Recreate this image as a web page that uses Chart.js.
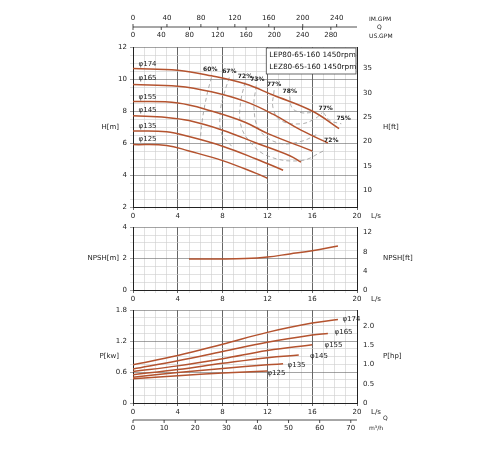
<!DOCTYPE html>
<html><head><meta charset="utf-8">
<script src="https://cdn.jsdelivr.net/npm/chart.js@4.4.0/dist/chart.umd.min.js"></script>
<style>
body{margin:0;background:#fff;}
#wrap{position:relative;width:500px;height:450px;}
.c{position:absolute;}
</style></head><body>
<div id="wrap">
<div class="c" style="left:75px;top:5px;width:347px;height:216px"><canvas id="c1"></canvas></div>
<div class="c" style="left:75px;top:220px;width:347px;height:84px"><canvas id="c2"></canvas></div>
<div class="c" style="left:75px;top:303px;width:347px;height:145px"><canvas id="c3"></canvas></div>
</div>
<script>
// ---- data ----
const diameters = ['φ174','φ165','φ155','φ145','φ135','φ125'];
const headCurves = [
 [[0,10.65],[4,10.55],[7,10.2],[10,9.7],[12.5,9.0],[16,8.0],[18.4,6.9]],
 [[0,9.65],[4,9.55],[7,9.2],[10,8.6],[12.5,7.8],[15,6.8],[17.4,6.0]],
 [[0,8.6],[4,8.5],[7,8.0],[10,7.3],[12,6.6],[16,5.5]],
 [[0,7.7],[3,7.6],[5,7.4],[8,6.8],[11,6.0],[14,5.2],[15,4.8]],
 [[0,6.75],[3,6.7],[5,6.4],[8,5.8],[11,5.0],[13.4,4.3]],
 [[0,5.9],[3,5.85],[5,5.5],[8,4.9],[11,4.1],[12,3.8]]
];
const headLabelPos = [[0.5,10.9],[0.5,10.0],[0.5,8.85],[0.5,8.0],[0.5,7.0],[0.5,6.2]];
const effLines = [
 [[7,10.1],[6.6,9],[6.2,7.5],[6,6.2]],
 [[8.6,10.1],[8.1,9],[7.8,8],[7.9,6.6],[8.8,5.8]],
 [[10,9.8],[9.6,8.5],[9.6,7.2],[10.3,6.2],[12,5.2],[15,4.9],[17,5.5]],
 [[11,9.6],[10.8,8.2],[11.3,6.8],[13,6.0],[15,6.1],[16.6,6.6]],
 [[12.6,9.3],[12.5,8.2],[13.2,7.4],[15,7.2],[16.2,7.5],[16.9,7.9]],
 [[14,8.9],[14.2,8.2],[15,7.9],[16,7.9]],
 [[17,7.9],[17.6,7.4],[18.6,7.2]]
];
const effLabels = [['60%',6.9,10.4],['67%',8.6,10.3],['72%',10,10.0],['73%',11.1,9.8],['77%',12.6,9.45],['78%',14,9.05],['77%',17.2,7.95],['75%',18.8,7.35],['72%',17.7,5.95]];
const npsh = [[5,1.97],[8,1.97],[10,2.0],[12,2.1],[14,2.3],[16,2.5],[18.3,2.8]];
const powerCurves = [
 [[0,0.74],[4,0.92],[8,1.14],[12,1.37],[16,1.55],[18.3,1.62]],
 [[0,0.66],[4,0.82],[8,1.0],[12,1.18],[16,1.32],[17.4,1.35]],
 [[0,0.61],[4,0.72],[8,0.86],[12,1.02],[16,1.13]],
 [[0,0.55],[4,0.65],[8,0.77],[12,0.88],[14.8,0.93]],
 [[0,0.5],[4,0.59],[8,0.67],[12,0.74],[13.4,0.76]],
 [[0,0.47],[4,0.53],[8,0.58],[12,0.62]]
];
const powerLabelPos = [[18.7,1.63],[18,1.375],[17.1,1.125],[15.8,0.9],[13.8,0.73],[12,0.58]];
const imGpmTicks = [0,40,80,120,160,200,240];
const usGpmTicks = [0,40,80,120,160,200,240,280];
const m3hTicks = [0,10,20,30,40,50,60,70];
const IMGPM_PER_LS = 13.198, USGPM_PER_LS = 15.850, M3H_PER_LS = 3.6;

const FONT = '"DejaVu Sans", sans-serif';
const CURVE = '#b4532f';
Chart.defaults.font.family = FONT;
Chart.defaults.font.size = 7;
Chart.defaults.color = '#222';
Chart.defaults.animation = false;

const pts = a => a.map(p => ({x:p[0], y:p[1]}));
function curveDS(a){return {data:pts(a),borderColor:CURVE,borderWidth:1.5,pointRadius:0,tension:0.4,yAxisID:'y'};}

function xScale(){
  return {type:'linear',min:0,max:20,
    ticks:{stepSize:1,padding:2,maxRotation:0,autoSkip:false,callback:v=>v%4===0?v:''},
    grid:{color:c=>c.tick.value%4===0?'#666':'#ccc',lineWidth:c=>c.tick.value%4===0?1:0.6,tickLength:3},
    border:{color:'#222'},
    afterFit:s=>{s.height=14;}};
}
function yScale(min,max,step,lab,major){
  return {type:'linear',position:'left',min,max,
    ticks:{stepSize:step,padding:3,autoSkip:false,callback:v=>Math.abs(v/lab-Math.round(v/lab))<1e-6?(+v.toFixed(2)):''},
    grid:{color:c=>Math.abs(c.tick.value/major-Math.round(c.tick.value/major))<1e-6?'#666':'#ccc',lineWidth:0.6,tickLength:3},
    border:{color:'#222'},
    afterFit:s=>{s.width=58;}};
}
function y2Scale(min,max,ticks,fmt){
  return {type:'linear',position:'right',min,max,
    afterBuildTicks:s=>{s.ticks=ticks.map(v=>({value:v}));},
    ticks:{padding:3,callback:v=>fmt?fmt(v):v},
    grid:{display:false,drawOnChartArea:false,tickLength:3},
    border:{color:'#222'},
    afterFit:s=>{s.width=65;}};
}
function textPlugin(draw){return {id:'t'+Math.random(),afterDraw:ch=>{const c=ch.ctx;c.save();c.font='7px '+FONT;c.fillStyle='#222';draw(ch,c);c.restore();}};}
function unitLabels(ch,c,left,right){
  const a=ch.chartArea;
  c.textAlign='left';c.textBaseline='middle';
  c.fillText('L/s',a.right+14,a.bottom+9);
  c.textAlign='right';c.fillText(left,a.left-14,(a.top+a.bottom)/2);
  c.textAlign='left';c.fillText(right,a.right+26,(a.top+a.bottom)/2);
}

// Chart 1: head
const ds1 = headCurves.map(curveDS).concat(effLines.map(a=>({data:pts(a),borderColor:'#999',borderWidth:0.8,borderDash:[4,3],pointRadius:0,tension:0.4,yAxisID:'y'})));
new Chart(document.getElementById('c1'),{type:'line',data:{datasets:ds1},
 options:{responsive:true,maintainAspectRatio:false,layout:{padding:{top:42,left:0,right:0,bottom:0}},
  plugins:{legend:{display:false},tooltip:{enabled:false}},
  scales:{x:xScale(),y:yScale(2,12,0.5,2,2),y2:y2Scale(2*3.2808,12*3.2808,[10,15,20,25,30,35])}},
 plugins:[textPlugin((ch,c)=>{
   const x=ch.scales.x,y=ch.scales.y,a=ch.chartArea;
   unitLabels(ch,c,'H[m]','H[ft]');
   c.textBaseline='bottom';c.textAlign='left';
   headLabelPos.forEach((p,i)=>c.fillText(diameters[i],x.getPixelForValue(p[0]),y.getPixelForValue(p[1])+3));
   c.font='bold 6px '+FONT;c.textAlign='center';
   effLabels.forEach(e=>c.fillText(e[0],x.getPixelForValue(e[1]),y.getPixelForValue(e[2])));
   // model box
   c.fillStyle='#fff';c.strokeStyle='#444';c.lineWidth=0.8;
   const bx=x.getPixelForValue(11.9),by=a.top+1,bw=a.right-bx-1,bh=26;
   c.fillRect(bx,by,bw,bh);c.strokeRect(bx,by,bw,bh);
   c.fillStyle='#111';c.font='7.3px '+FONT;c.textAlign='left';c.textBaseline='middle';
   c.fillText('LEP80-65-160 1450rpm',bx+3,by+7.5);c.fillText('LEZ80-65-160 1450rpm',bx+3,by+19);
   // top flow axes
   c.strokeStyle='#222';c.lineWidth=0.8;c.font='7px '+FONT;c.fillStyle='#222';
   const ly=a.top-20;
   c.beginPath();c.moveTo(a.left,ly);c.lineTo(a.right,ly);c.stroke();
   c.textAlign='center';
   imGpmTicks.forEach(v=>{const px=x.getPixelForValue(v/IMGPM_PER_LS);c.beginPath();c.moveTo(px,ly);c.lineTo(px,ly-3);c.stroke();c.textBaseline='bottom';c.fillText(v,px,ly-5);});
   usGpmTicks.forEach(v=>{const px=x.getPixelForValue(v/USGPM_PER_LS);c.beginPath();c.moveTo(px,ly);c.lineTo(px,ly+3);c.stroke();c.textBaseline='top';c.fillText(v,px,ly+5);});
   c.font='6px '+FONT;c.textAlign='left';c.textBaseline='middle';
   c.fillText('IM.GPM',a.right+12,ly-8);c.fillText('Q',a.right+20,ly);c.fillText('US.GPM',a.right+12,ly+9);
 })]});

// Chart 2: NPSH
new Chart(document.getElementById('c2'),{type:'line',data:{datasets:[curveDS(npsh)]},
 options:{responsive:true,maintainAspectRatio:false,layout:{padding:{top:5}},
  plugins:{legend:{display:false},tooltip:{enabled:false}},
  scales:{x:xScale(),y:yScale(0,4,0.5,2,2),y2:y2Scale(0,4*3.2808,[0,4,8,12])}},
 plugins:[textPlugin((ch,c)=>unitLabels(ch,c,'NPSH[m]','NPSH[ft]'))]});

// Chart 3: power
new Chart(document.getElementById('c3'),{type:'line',data:{datasets:powerCurves.map(curveDS)},
 options:{responsive:true,maintainAspectRatio:false,layout:{padding:{top:5,bottom:31}},
  plugins:{legend:{display:false},tooltip:{enabled:false}},
  scales:{x:xScale(),y:yScale(0,1.8,0.15,0.6,0.6),y2:y2Scale(0,1.8*1.341,[0,0.5,1,1.5,2],v=>v===0?'0':v.toFixed(1))}},
 plugins:[textPlugin((ch,c)=>{
   const x=ch.scales.x,y=ch.scales.y,a=ch.chartArea;
   unitLabels(ch,c,'P[kw]','P[hp]');
   c.textAlign='left';c.textBaseline='middle';
   powerLabelPos.forEach((p,i)=>c.fillText(diameters[i],x.getPixelForValue(p[0]),y.getPixelForValue(p[1])));
   const ly=a.bottom+17;
   c.strokeStyle='#222';c.lineWidth=0.8;
   c.beginPath();c.moveTo(a.left,ly);c.lineTo(a.right,ly);c.stroke();
   c.textAlign='center';c.textBaseline='top';
   m3hTicks.forEach(v=>{const px=x.getPixelForValue(v/M3H_PER_LS);c.beginPath();c.moveTo(px,ly);c.lineTo(px,ly+3);c.stroke();c.fillText(v,px,ly+5);});
   c.font='6px '+FONT;c.textAlign='left';
   c.fillText('Q',a.right+26,ly-5);c.fillText('m³/h',a.right+12,ly+5);
 })]});
</script>
</body></html>
